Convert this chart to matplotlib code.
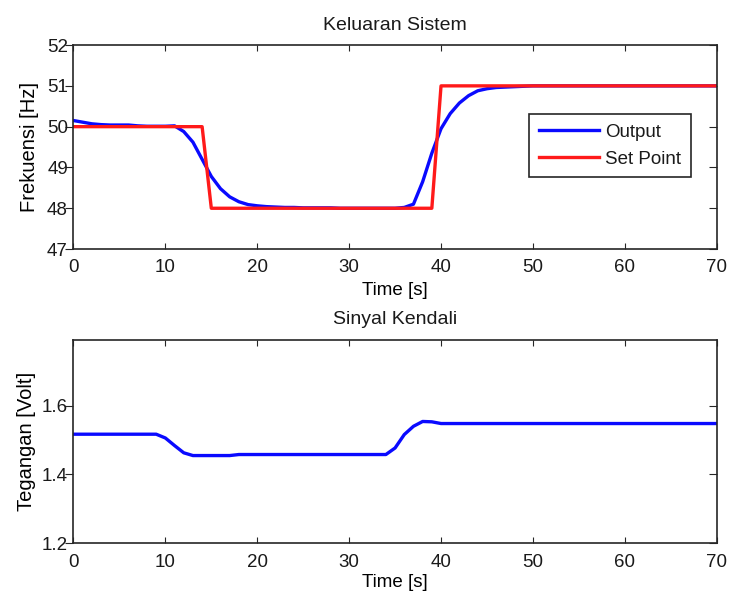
import matplotlib
matplotlib.use('Agg')
import matplotlib.pyplot as plt

plt.rcParams.update({
    'font.family': ['Liberation Sans', 'DejaVu Sans'],
    'font.size': 13.5,
    'text.color': '#1a1a1a',
    'axes.edgecolor': '#262626',
    'axes.linewidth': 1.2,
    'xtick.color': '#262626',
    'ytick.color': '#262626',
    'xtick.labelcolor': '#1a1a1a',
    'ytick.labelcolor': '#1a1a1a',
    'xtick.direction': 'in',
    'ytick.direction': 'out',
    'xtick.top': True,
    'ytick.right': True,
    'xtick.major.size': 4,
    'ytick.major.size': 5.5,
    'xtick.major.pad': 7.5,
    'ytick.major.pad': -1.5,
})

# simulation time, 1 s step
t = list(range(0, 71))

# system output frequency [Hz]
freq_out = [50.15, 50.11, 50.07, 50.05, 50.04, 50.04, 50.04, 50.02, 50.01, 50.01,
            50.01, 50.02, 49.88, 49.62, 49.20, 48.78, 48.48, 48.28, 48.16, 48.09,
            48.06, 48.04, 48.03, 48.02, 48.02, 48.01, 48.01, 48.01, 48.01, 48.00,
            48.00, 48.00, 48.00, 48.00, 48.00, 48.00, 48.02, 48.10, 48.65, 49.35,
            49.95, 50.32, 50.58, 50.76, 50.88, 50.93, 50.96, 50.97, 50.98, 50.99,
            51.00] + [51.00] * 20

# frequency set point [Hz]
set_point = [50.0] * 15 + [48.0] * 25 + [51.0] * 31

# control signal [Volt]
u_ctrl = [1.517] * 10 + [1.506, 1.484, 1.463, 1.455, 1.455, 1.455, 1.455, 1.455,
                         1.458, 1.458, 1.458, 1.458, 1.458, 1.458, 1.458, 1.458,
                         1.458, 1.458, 1.458, 1.458, 1.458, 1.458, 1.458, 1.458,
                         1.458, 1.477, 1.516, 1.540, 1.554, 1.553, 1.548] + [1.548] * 30

blue = '#0a0aff'
red = '#ff1a1a'


def style_axes(ax):
    # MATLAB-like box: inward ticks on top/right, outward on the left
    for tk in ax.yaxis.get_major_ticks():
        tk.tick2line.set_marker(0)  # right tick points inward
    ax.set_xlim(0, 70)
    ax.set_xticks(range(0, 71, 10))


fig = plt.figure(figsize=(7.29, 5.93), dpi=100)
ax1 = fig.add_axes([0.1008, 0.580, 0.8823, 0.344])
ax2 = fig.add_axes([0.1008, 0.0837, 0.8823, 0.3426])

ax1.plot(t, freq_out, color=blue, lw=2.4, label='Output')
ax1.plot(t, set_point, color=red, lw=2.4, label='Set Point')
ax1.set_ylim(47, 52)
ax1.set_yticks(range(47, 53))
style_axes(ax1)
ax1.set_title('Keluaran Sistem', pad=11, fontsize=14)
ax1.set_xlabel('Time [s]', labelpad=4)
ax1.set_ylabel('Frekuensi [Hz]', labelpad=5.5, fontsize=14.5)
leg = ax1.legend(loc='upper right', bbox_to_anchor=(0.9595, 0.662), fancybox=False,
                 edgecolor='#262626', framealpha=1, handlelength=3.2,
                 handletextpad=0.35, borderpad=0.5, labelspacing=0.55,
                 borderaxespad=0)
leg.get_frame().set_linewidth(1.2)

ax2.plot(t, u_ctrl, color=blue, lw=2.4)
ax2.set_ylim(1.2, 1.79)
ax2.set_yticks([1.2, 1.4, 1.6])
style_axes(ax2)
ax2.set_title('Sinyal Kendali', pad=11.5, fontsize=14)
ax2.set_xlabel('Time [s]', labelpad=2)
ax2.set_ylabel('Tegangan [Volt]', labelpad=4.5, fontsize=14.5)

fig.savefig('out.png', dpi=100)
